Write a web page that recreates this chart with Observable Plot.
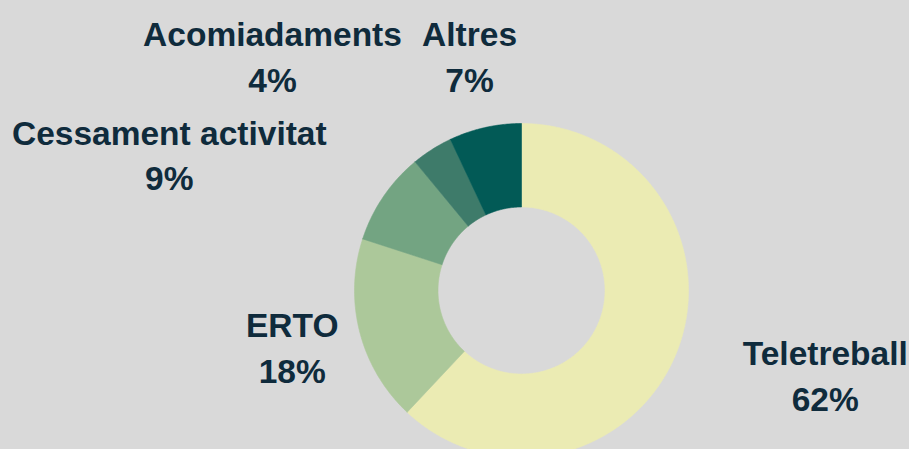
<!DOCTYPE html>
<html>
<head>
<meta charset="utf-8">
<script src="https://cdn.jsdelivr.net/npm/d3@7"></script>
<script src="https://cdn.jsdelivr.net/npm/@observablehq/plot@0.6"></script>
<style>
  html, body { margin: 0; padding: 0; background: #d9d9d9; }
  #chart svg { display: block; }
</style>
</head>
<body>
<div id="chart"></div>
<script>
// Data
const categories = ["Teletreball", "ERTO", "Cessament activitat", "Acomiadaments", "Altres"];
const values = [62, 18, 9, 4, 7];
const valueLabels = ["62%", "18%", "9%", "4%", "7%"];

// Styles
const colors = ["#ebebb3", "#acc89a", "#73a482", "#3e7b6a", "#025a56"];
// Label anchor positions in donut units (radius = 1), layout only
const labelPos = [
  [1.819, -0.719],
  [-1.373, -0.555],
  [-2.109, 0.599],
  [-1.491, 1.187],
  [-0.311, 1.187]
];
const innerRatio = 0.5;

// Build slice polygons from pie angles (clockwise from 12 o'clock)
const total = d3.sum(values);
let acc = 0;
const slices = categories.map((c, i) => {
  const a0 = acc / total * 2 * Math.PI;
  acc += values[i];
  const a1 = acc / total * 2 * Math.PI;
  const n = Math.max(4, Math.ceil((a1 - a0) / (Math.PI / 360)));
  const pts = [];
  for (let k = 0; k <= n; k++) {
    const a = a0 + (a1 - a0) * k / n;
    pts.push({x: Math.sin(a), y: Math.cos(a)});
  }
  for (let k = n; k >= 0; k--) {
    const a = a0 + (a1 - a0) * k / n;
    pts.push({x: innerRatio * Math.sin(a), y: innerRatio * Math.cos(a)});
  }
  pts.push(pts[0]);
  return {category: c, color: colors[i], pts};
});

const labels = categories.map((c, i) => ({
  text: c + "\n" + valueLabels[i],
  x: labelPos[i][0],
  y: labelPos[i][1]
}));

const cx = 521, cy = 290, R = 167;

const chart = Plot.plot({
  width: 909,
  height: 449,
  margin: 0,
  style: {background: "#d9d9d9", overflow: "hidden"},
  x: {domain: [-1, 1], range: [cx - R, cx + R], axis: null},
  y: {domain: [-1, 1], range: [cy + R, cy - R], axis: null},
  marks: [
    ...slices.map(s => Plot.line(s.pts, {
      x: "x", y: "y", fill: s.color, stroke: s.color, strokeWidth: 0.6, curve: "linear"
    })),
    Plot.text(labels, {
      x: "x", y: "y", text: "text",
      textAnchor: "middle",
      lineAnchor: "bottom",
      lineHeight: 1.37,
      fontSize: 33.5,
      fontWeight: "bold",
      fontFamily: "Liberation Sans, Arial, sans-serif",
      fill: "#0f2b3c"
    })
  ]
});
document.getElementById("chart").appendChild(chart);
</script>
</body>
</html>
